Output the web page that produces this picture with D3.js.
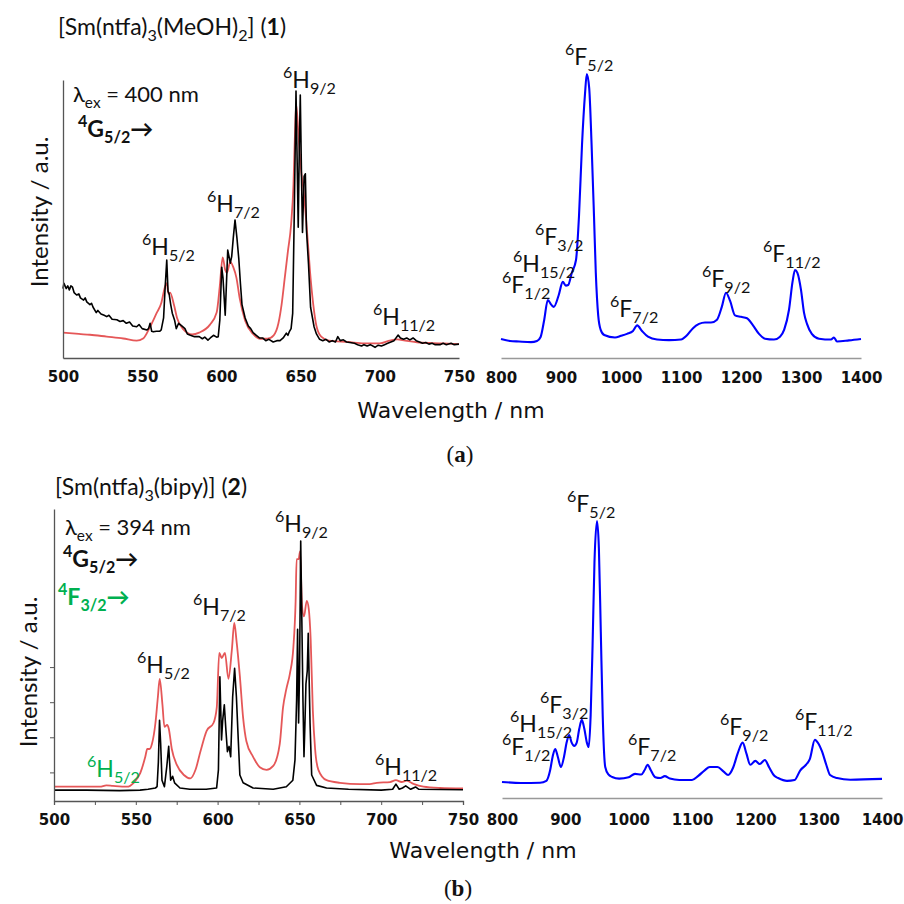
<!DOCTYPE html>
<html><head><meta charset="utf-8">
<script src="https://cdn.jsdelivr.net/npm/d3@7"></script>
<style>body{margin:0;background:#fff} svg{display:block;background:#fff}</style>
</head><body><svg id="c" width="904" height="904"></svg>
<script>
// ---------------- DATA ----------------
const xTicksVis = [500, 550, 600, 650, 700, 750];
const xTicksVisMinor = [500, 525, 550, 575, 600, 625, 650, 675, 700, 725, 750];
const xTicksNir = [800, 900, 1000, 1100, 1200, 1300, 1400];
const yTicksB = [0.11, 0.245, 0.38, 0.515];

// (a) compound 1, visible region, black spectrum (wavelength nm, normalised intensity)
const aBlack = [[500,0.26],[500.6,0.28],[502,0.26],[503,0.27],[504,0.255],[505,0.27],[506,0.265],[507,0.245],[508.6,0.236],[510,0.24],[511,0.225],[513,0.217],[514,0.225],[515,0.21],[517,0.2],[518,0.205],[519,0.19],[521,0.17],[522,0.178],[524,0.165],[526,0.16],[527.6,0.155],[529,0.16],[531,0.145],[534,0.143],[536,0.137],[538,0.14],[540,0.13],[542,0.135],[544,0.12],[546.5,0.117],[548,0.125],[550,0.11],[553,0.105],[554,0.11],[555,0.13],[556,0.1],[557,0.098],[559,0.1],[561,0.1],[562,0.105],[563.5,0.15],[564.4,0.255],[565.5,0.367],[566.3,0.25],[567,0.24],[568,0.2],[569,0.168],[570.5,0.14],[571.5,0.11],[573,0.13],[575,0.12],[577,0.11],[578.5,0.09],[580,0.086],[583,0.08],[586,0.08],[588,0.072],[589.5,0.078],[591.5,0.067],[593,0.075],[595,0.085],[597,0.078],[598,0.08],[599,0.142],[600.2,0.34],[601,0.3],[602.4,0.16],[603,0.25],[604,0.404],[604.8,0.38],[605.6,0.355],[606.5,0.38],[607.5,0.45],[608.6,0.517],[609.8,0.45],[611,0.37],[612,0.28],[613,0.2],[615,0.15],[617,0.12],[618.5,0.11],[620,0.095],[622,0.085],[624,0.075],[626,0.075],[628,0.065],[630,0.07],[632.7,0.06],[635,0.065],[637,0.065],[639,0.075],[641,0.093],[642,0.085],[643,0.1],[644,0.11],[645,0.167],[646,0.54],[647.1,1.0],[648,0.67],[648.5,0.49],[649.2,0.8],[649.8,0.985],[650.6,0.67],[651.2,0.47],[652.2,0.68],[653,0.69],[653.7,0.48],[655,0.35],[656.3,0.19],[658.5,0.117],[660,0.09],[662,0.07],[664,0.065],[666,0.07],[668,0.06],[670,0.065],[672,0.06],[673.5,0.08],[675,0.065],[677,0.068],[679,0.06],[681,0.058],[684,0.055],[686,0.05],[688.5,0.045],[690,0.05],[692,0.045],[694,0.05],[697,0.04],[699,0.048],[701,0.045],[703,0.05],[705,0.055],[707,0.06],[709,0.065],[711.6,0.086],[713,0.075],[715,0.07],[717,0.075],[719,0.068],[721,0.075],[723,0.065],[725,0.06],[727,0.055],[729,0.058],[731,0.052],[733,0.055],[735,0.05],[738,0.05],[740,0.055],[742,0.05],[745,0.055],[747,0.05],[750,0.052]];

// (a) compound 1, visible region, red spectrum
const aRed = [[500,0.095],[510,0.09],[517,0.087],[527.6,0.08],[538,0.073],[546.5,0.065],[550.6,0.073],[555,0.117],[559,0.167],[562,0.205],[564.4,0.267],[565.5,0.28],[566.6,0.24],[567.6,0.245],[570,0.2],[572,0.15],[576,0.107],[581.5,0.088],[586,0.095],[592.8,0.125],[597,0.17],[599,0.27],[600.8,0.377],[602.4,0.33],[603.5,0.32],[605.6,0.36],[607.5,0.34],[609.5,0.3],[611.5,0.225],[615,0.14],[620,0.09],[624.5,0.072],[629,0.072],[633,0.085],[636,0.13],[638,0.2],[640,0.3],[642,0.4],[644,0.5],[645.5,0.65],[646.5,0.85],[647.2,0.95],[648.5,0.85],[650,0.72],[652,0.62],[654,0.48],[656,0.32],[658,0.2],[660,0.12],[663,0.08],[668,0.065],[680,0.06],[690,0.055],[700,0.055],[706,0.065],[711,0.07],[716,0.065],[725,0.058],[740,0.055],[750,0.052]];

// (a) compound 1, NIR region, blue spectrum
const aBlue = [[800,0.067],[815,0.06],[830,0.058],[850,0.056],[860,0.06],[866,0.074],[872,0.134],[878,0.204],[884,0.187],[888,0.18],[896,0.22],[903,0.268],[908,0.255],[912,0.257],[918,0.3],[925,0.345],[930,0.5],[935,0.75],[940,0.93],[943,1.0],[947,0.95],[951,0.75],[955,0.5],[958,0.3],[962,0.15],[966,0.1],[972,0.081],[990,0.072],[1000,0.078],[1010,0.085],[1020,0.095],[1027,0.115],[1035,0.095],[1045,0.075],[1060,0.065],[1080,0.063],[1100,0.065],[1110,0.08],[1120,0.105],[1130,0.12],[1140,0.125],[1150,0.125],[1160,0.135],[1168,0.18],[1175,0.23],[1182,0.2],[1190,0.15],[1200,0.145],[1210,0.14],[1220,0.115],[1230,0.085],[1240,0.068],[1255,0.065],[1265,0.075],[1272,0.1],[1280,0.17],[1286,0.27],[1290,0.31],[1294,0.3],[1300,0.24],[1305,0.16],[1310,0.12],[1318,0.085],[1330,0.068],[1350,0.065],[1355,0.072],[1360,0.058],[1380,0.062],[1400,0.067]];

// (b) compound 2, visible region, black spectrum
const bBlack = [[500,0.042],[520,0.042],[540,0.04],[552.6,0.042],[557.5,0.045],[562,0.05],[563,0.055],[563.8,0.15],[564.5,0.31],[565.2,0.22],[566,0.08],[567.5,0.055],[568.9,0.13],[570.1,0.21],[571.3,0.08],[572.5,0.095],[573.7,0.07],[577,0.05],[583,0.045],[593,0.045],[599.4,0.05],[600.5,0.12],[601.4,0.478],[602.4,0.235],[603.1,0.31],[604.1,0.37],[605.1,0.27],[606,0.19],[607,0.21],[608,0.17],[609.2,0.4],[610.4,0.51],[611.5,0.4],[612.6,0.24],[613.6,0.1],[615.6,0.07],[621.7,0.05],[634,0.045],[642,0.055],[646,0.08],[647.3,0.158],[648.3,0.39],[648.9,0.66],[649.5,0.3],[650.1,0.5],[650.8,1.0],[651.6,0.65],[652.2,0.38],[652.8,0.17],[653.4,0.3],[654,0.45],[654.8,0.5],[655.4,0.645],[656.5,0.3],[657.5,0.1],[660.5,0.06],[666.6,0.05],[680,0.045],[700,0.042],[707,0.045],[709,0.065],[711,0.045],[713,0.05],[715,0.058],[718,0.045],[721,0.054],[723,0.045],[750,0.043]];

// (b) compound 2, visible region, red spectrum
const bRed = [[500,0.055],[520,0.055],[528,0.055],[532,0.06],[536,0.058],[544.6,0.055],[548.7,0.07],[552.7,0.107],[555.8,0.17],[557,0.2],[558.4,0.2],[559.9,0.22],[562,0.3],[563.5,0.4],[564.6,0.47],[566.3,0.37],[567.5,0.285],[569.2,0.293],[570.1,0.28],[572,0.2],[575,0.14],[579.4,0.1],[583.4,0.087],[586.5,0.12],[589.5,0.19],[593.3,0.27],[597.5,0.3],[599.5,0.36],[601,0.57],[602.5,0.55],[604.5,0.57],[606.6,0.47],[608.7,0.58],[610.2,0.685],[611.5,0.62],[613.6,0.48],[615.6,0.32],[617.6,0.23],[621.7,0.17],[625.8,0.13],[629.9,0.12],[634,0.135],[638,0.22],[640,0.36],[642,0.43],[644.2,0.49],[646.3,0.59],[647.7,0.77],[648.3,0.93],[649.5,0.93],[650.4,0.96],[651.6,0.75],[652.8,0.71],[654.5,0.77],[655.7,0.74],[656.9,0.62],[658.2,0.35],[659.6,0.2],[661.6,0.12],[666.6,0.08],[674.8,0.07],[687,0.065],[693,0.065],[697.3,0.07],[705.4,0.073],[709,0.08],[712.5,0.073],[715.6,0.078],[719.7,0.066],[725.8,0.055],[736,0.05],[750,0.048]];

// (b) compound 2, NIR region, blue spectrum
const bBlue = [[800,0.058],[830,0.054],[860,0.055],[870,0.062],[876,0.1],[880,0.15],[884,0.177],[888,0.15],[893,0.112],[898,0.15],[902,0.2],[906,0.227],[910,0.2],[914,0.188],[918,0.2],[922,0.25],[926,0.282],[930,0.25],[934,0.2],[937,0.184],[940,0.3],[943,0.55],[946,0.85],[950,1.0],[953,0.9],[956,0.6],[959,0.3],[963,0.112],[968,0.085],[974,0.076],[985,0.07],[1000,0.075],[1010,0.087],[1020,0.085],[1025,0.1],[1030,0.12],[1035,0.1],[1042,0.075],[1050,0.072],[1057,0.079],[1065,0.07],[1080,0.065],[1100,0.065],[1110,0.08],[1120,0.1],[1128,0.112],[1140,0.112],[1150,0.095],[1157,0.083],[1165,0.11],[1172,0.16],[1180,0.2],[1186,0.16],[1192,0.12],[1200,0.134],[1207,0.123],[1215,0.137],[1222,0.11],[1230,0.08],[1236,0.072],[1250,0.062],[1262,0.065],[1271,0.1],[1280,0.12],[1286,0.14],[1294,0.21],[1300,0.195],[1305,0.17],[1312,0.12],[1318,0.083],[1329,0.072],[1350,0.066],[1400,0.069]];

// transition labels: [term letter, superscript, subscript]
const labelsA_vis = [["H","6","5/2"],["H","6","7/2"],["H","6","9/2"],["H","6","11/2"]];
const labelsA_nir = [["F","6","5/2"],["F","6","3/2"],["H","6","15/2"],["F","6","1/2"],["F","6","7/2"],["F","6","9/2"],["F","6","11/2"]];
const labelsB_vis = [["H","6","9/2"],["H","6","7/2"],["H","6","5/2"],["H","6","11/2"]];
const labelsB_nir = labelsA_nir;

// ---------------- DRAWING ----------------
const svg = d3.select("#c");
const CAL = "Lato, 'Open Sans', sans-serif";
const TICKF = "'DejaVu Sans', sans-serif";

function rich(g, x, y, parts, size, color, weight) {
  const t = g.append("text").attr("x", x).attr("y", y)
    .attr("font-family", CAL).attr("font-size", size)
    .attr("fill", color || "#111").attr("font-weight", weight || "normal");
  let shift = 0;
  parts.forEach(p => {
    const ts = t.append("tspan").text(p.t);
    let target = 0, fs = size;
    if (p.s === "sup") { target = -0.42 * size; fs = 0.7 * size; }
    else if (p.s === "sub") { target = 0.28 * size; fs = 0.7 * size; }
    ts.attr("dy", target - shift).attr("font-size", fs);
    if (p.b) ts.attr("font-weight", "bold");
    shift = target;
  });
  return t;
}
function term(g, x, y, lab, size, color, weight) {
  return rich(g, x, y, [{t: lab[1], s: "sup"}, {t: lab[0]}, {t: lab[2], s: "sub"}], size, color, weight);
}

function panel(opt) {
  const g = svg.append("g");
  const x = d3.scaleLinear().domain(opt.xDomain).range(opt.xRange);
  const y = d3.scaleLinear().domain([0, opt.yTop]).range(opt.yRange);
  opt.series.forEach(s => {
    const line = d3.line().x(d => x(d[0])).y(d => y(d[1])).curve(s.curve || d3.curveLinear);
    g.append("path").datum(s.data).attr("d", line).attr("fill", "none")
      .attr("stroke", s.color).attr("stroke-width", s.w).attr("stroke-opacity", s.op || 1)
      .attr("stroke-linejoin", "round");
  });
  const xa = d3.axisBottom(x).tickValues(opt.xTicks).tickSizeOuter(0)
    .tickSize(opt.tickLen || 0).tickPadding(opt.tickPad)
    .tickFormat(opt.fmt || (d => d));
  const ax = g.append("g").attr("transform", `translate(0,${opt.yRange[0]})`).call(xa);
  ax.select(".domain").attr("stroke", opt.axisColor).attr("stroke-width", 1.3);
  ax.selectAll(".tick line").attr("stroke", opt.axisColor);
  ax.selectAll(".tick text").attr("font-family", TICKF).attr("font-weight", "bold")
    .attr("font-size", 15).attr("fill", "#111");
  if (opt.yAxis) {
    const ya = d3.axisLeft(y).tickValues(opt.yTicks || []).tickSize(opt.yTickLen || 0).tickSizeOuter(0).tickFormat("");
    const ay = g.append("g").attr("transform", `translate(${opt.xRange[0]},0)`).call(ya);
    ay.select(".domain").attr("stroke", opt.axisColor).attr("stroke-width", 1.3);
    ay.selectAll(".tick line").attr("stroke", opt.axisColor);
  }
  return g;
}

const red = "#e0393b";

// ===== Panel (a) =====
rich(svg, 58, 35, [{t:"[Sm(ntfa)"},{t:"3",s:"sub"},{t:"(MeOH)"},{t:"2",s:"sub"},{t:"]  ("},{t:"1",b:true},{t:")"}], 23, "#111");

panel({xDomain:[500,750], xRange:[63,459], yTop:1.041, yRange:[358,80], xTicks:xTicksVis, tickPad:13,
  axisColor:"#555", yAxis:true,
  series:[{data:aRed,color:red,w:1.8,op:0.85,curve:d3.curveMonotoneX},{data:aBlack,color:"#000",w:1.6}]});
panel({xDomain:[800,1400], xRange:[501,861], yTop:1, yRange:[358,74], xTicks:xTicksNir, tickPad:14,
  axisColor:"#999", yAxis:false,
  series:[{data:aBlue,color:"#0000ff",w:2.1,curve:d3.curveMonotoneX}]});

rich(svg, 73, 102, [{t:"λ"},{t:"ex",s:"sub"},{t:" = 400 nm"}], 22, "#111");
rich(svg, 78, 137, [{t:"4",s:"sup"},{t:"G"},{t:"5/2",s:"sub"},{t:"→"}], 23, "#111", "bold");

const posAvis = [[142,255],[207,212],[283,88],[373,325]];
labelsA_vis.forEach((l,i) => term(svg, posAvis[i][0], posAvis[i][1], l, 23, "#111"));
const posAnir = [[565,65],[535,245],[513,272],[502,293],[610,317],[702,287],[763,262]];
labelsA_nir.forEach((l,i) => term(svg, posAnir[i][0], posAnir[i][1], l, 23, "#111"));

svg.append("text").attr("transform","translate(48,212) rotate(-90)").attr("text-anchor","middle")
  .attr("font-family", CAL).attr("font-size", 24).attr("fill","#111").text("Intensity / a.u.");
svg.append("text").attr("x",451).attr("y",418).attr("text-anchor","middle")
  .attr("font-family", TICKF).attr("font-size", 22).attr("fill","#111").text("Wavelength / nm");
const ta = svg.append("text").attr("x",460).attr("y",462).attr("text-anchor","middle")
  .attr("font-family","'Liberation Serif', serif").attr("font-size",23).attr("fill","#111");
ta.append("tspan").text("("); ta.append("tspan").attr("font-weight","bold").text("a"); ta.append("tspan").text(")");

// ===== Panel (b) =====
rich(svg, 55, 495, [{t:"[Sm(ntfa)"},{t:"3",s:"sub"},{t:"(bipy)]  ("},{t:"2",b:true},{t:")"}], 23, "#111");

panel({xDomain:[500,750], xRange:[54,463], yTop:1.123, yRange:[801,509], xTicks:xTicksVisMinor, tickLen:4, tickPad:9,
  fmt: d => (d % 50 === 0 ? d : ""), axisColor:"#555", yAxis:true, yTicks:yTicksB, yTickLen:4,
  series:[{data:bRed,color:red,w:1.8,op:0.85,curve:d3.curveMonotoneX},{data:bBlack,color:"#000",w:1.6}]});
panel({xDomain:[800,1400], xRange:[502,882], yTop:1, yRange:[798,521], xTicks:xTicksNir, tickPad:16,
  axisColor:"#999", yAxis:false,
  series:[{data:bBlue,color:"#0000ff",w:2.1,curve:d3.curveMonotoneX}]});

rich(svg, 65, 535, [{t:"λ"},{t:"ex",s:"sub"},{t:" = 394 nm"}], 22, "#111");
rich(svg, 63, 567, [{t:"4",s:"sup"},{t:"G"},{t:"5/2",s:"sub"},{t:"→"}], 23, "#111", "bold");
rich(svg, 58, 605, [{t:"4",s:"sup"},{t:"F"},{t:"3/2",s:"sub"},{t:"→"}], 23, "#00b050", "bold");

const posBvis = [[275,532],[193,615],[137,673],[375,775]];
labelsB_vis.forEach((l,i) => term(svg, posBvis[i][0], posBvis[i][1], l, 23, "#111"));
term(svg, 87, 777, ["H","6","5/2"], 23, "#00b050");
const posBnir = [[567,512],[540,713],[510,732],[502,755],[628,755],[720,735],[795,730]];
labelsB_nir.forEach((l,i) => term(svg, posBnir[i][0], posBnir[i][1], l, 23, "#111"));

svg.append("text").attr("transform","translate(37,672) rotate(-90)").attr("text-anchor","middle")
  .attr("font-family", CAL).attr("font-size", 24).attr("fill","#111").text("Intensity / a.u.");
svg.append("text").attr("x",483).attr("y",858).attr("text-anchor","middle")
  .attr("font-family", TICKF).attr("font-size", 22).attr("fill","#111").text("Wavelength / nm");
const tb = svg.append("text").attr("x",458).attr("y",896).attr("text-anchor","middle")
  .attr("font-family","'Liberation Serif', serif").attr("font-size",23).attr("fill","#111");
tb.append("tspan").text("("); tb.append("tspan").attr("font-weight","bold").text("b"); tb.append("tspan").text(")");
</script></body></html>
